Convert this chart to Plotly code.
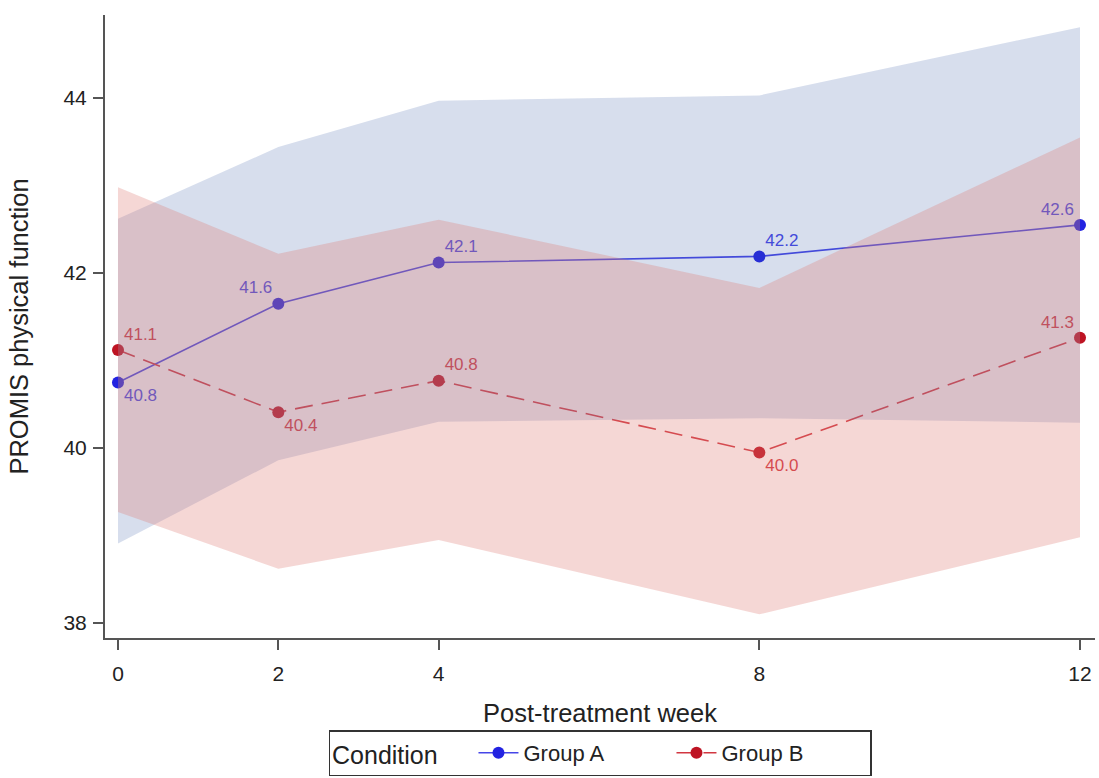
import plotly.graph_objects as go

weeks = [0, 2, 4, 8, 12]
tick_labels = ["0", "2", "4", "8", "12"]

a_mean = [40.75, 41.65, 42.12, 42.19, 42.55]
a_upper = [42.62, 43.44, 43.97, 44.03, 44.81]
a_lower = [38.91, 39.86, 40.30, 40.34, 40.29]
a_text = ["40.8", "41.6", "42.1", "42.2", "42.6"]
a_pos = ["bottom right", "top left", "top right", "top right", "top left"]

b_mean = [41.12, 40.41, 40.77, 39.95, 41.26]
b_upper = [42.98, 42.22, 42.61, 41.83, 43.55]
b_lower = [39.27, 38.62, 38.95, 38.10, 38.98]
b_text = ["41.1", "40.4", "40.8", "40.0", "41.3"]
b_pos = ["top right", "bottom right", "top right", "bottom right", "top left"]

A_LINE = "rgb(70,70,232)"
A_MARK = "rgb(35,35,225)"
B_LINE = "rgb(210,55,65)"
B_MARK = "rgb(190,20,35)"
FONT = "Liberation Sans, Arial, sans-serif"

fig = go.Figure()

# lines first (fills are drawn on top, as in the reference)
fig.add_trace(go.Scatter(x=weeks, y=a_mean, mode="lines+markers", name="Group A",
                         line=dict(color=A_LINE, width=1.6),
                         marker=dict(color=A_MARK, size=12)))
fig.add_trace(go.Scatter(x=weeks, y=b_mean, mode="lines+markers", name="Group B",
                         line=dict(color=B_LINE, width=1.6, dash="18px,9px"),
                         marker=dict(color=B_MARK, size=12)))
fig.add_trace(go.Scatter(x=weeks, y=a_mean, mode="markers+text", text=a_text, textposition=a_pos,
                         marker=dict(size=8, color="rgba(0,0,0,0)"),
                         textfont=dict(color=A_LINE, size=17, family=FONT),
                         showlegend=False, hoverinfo="skip"))
fig.add_trace(go.Scatter(x=weeks, y=b_mean, mode="markers+text", text=b_text, textposition=b_pos,
                         marker=dict(size=8, color="rgba(0,0,0,0)"),
                         textfont=dict(color=B_LINE, size=17, family=FONT),
                         showlegend=False, hoverinfo="skip"))

# confidence bands
fig.add_trace(go.Scatter(x=weeks + weeks[::-1], y=a_upper + a_lower[::-1], fill="toself",
                         fillcolor="rgba(55,90,165,0.2)", line=dict(width=0),
                         mode="lines", showlegend=False, hoverinfo="skip"))
fig.add_trace(go.Scatter(x=weeks + weeks[::-1], y=b_upper + b_lower[::-1], fill="toself",
                         fillcolor="rgba(222,122,115,0.3)", line=dict(width=0),
                         mode="lines", showlegend=False, hoverinfo="skip"))

fig.update_layout(
    width=1099, height=778,
    margin=dict(l=105, r=4, t=15, b=140, autoexpand=False),
    paper_bgcolor="white", plot_bgcolor="white",
    font=dict(family=FONT, color="#222"),
    showlegend=True,
    legend=dict(orientation="h", xref="container", yref="container",
                x=0.546, xanchor="center", y=0.002, yanchor="bottom",
                bgcolor="white", bordercolor="#333", borderwidth=1.5,
                font=dict(size=22, color="#222"), itemwidth=40,
                entrywidth=143, entrywidthmode="pixels",
                title=dict(text="Condition    ", side="left", font=dict(size=25, color="#222"))),
    xaxis=dict(range=[-0.162, 12.187], tickvals=weeks, ticktext=tick_labels,
               showgrid=False, zeroline=False, showline=True, linecolor="#555", linewidth=2,
               ticks="outside", ticklen=10, tickcolor="#555", tickwidth=2,
               ticklabelstandoff=6,
               tickfont=dict(size=21, color="#222"),
               title=dict(text="Post-treatment week", font=dict(size=25.5, color="#222"), standoff=20)),
    yaxis=dict(range=[37.829, 44.949], tickvals=[38, 40, 42, 44],
               showgrid=False, zeroline=False, showline=True, linecolor="#555", linewidth=2,
               ticks="outside", ticklen=10, tickcolor="#555", tickwidth=2,
               ticklabelstandoff=2,
               tickfont=dict(size=21, color="#222"),
               title=dict(text="PROMIS physical function", font=dict(size=25.5, color="#222"), standoff=28)),
)

fig.write_html("out.html")
